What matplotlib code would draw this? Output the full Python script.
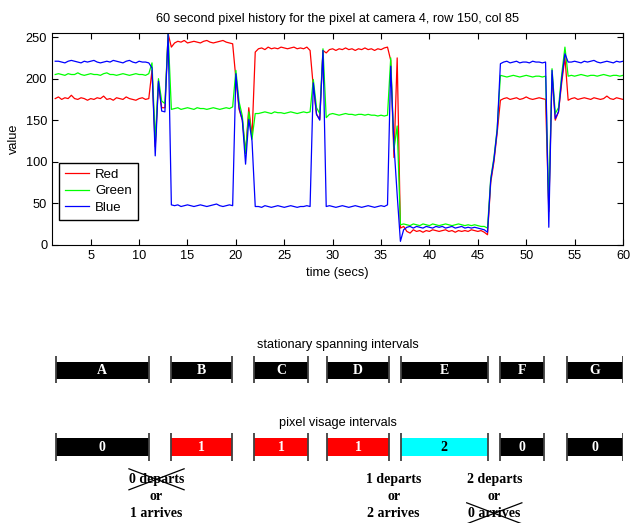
import numpy as np
import matplotlib
matplotlib.use("Agg")
import matplotlib.pyplot as plt

plt.rcParams['font.family'] = ['Liberation Sans', 'DejaVu Sans']

# pixel history, sampled 3 times a second from t = 4/3 s to 60 s
time_secs = np.arange(4, 181) / 3.0

red = [
    176, 178, 175, 177, 176, 180, 176, 175, 177, 176, 174, 176, 175, 177, 176,
    179, 175, 176, 174, 177, 176, 175, 178, 176, 175, 174, 176, 177, 175, 176,
    210, 118, 195, 165, 165, 254, 238,
    243, 245, 244, 246, 243, 244, 245, 244, 243, 245, 246, 244, 243, 244, 245, 246, 244, 243, 242,
    200, 163, 150, 110, 165, 130, 232,
    236, 237, 235, 238, 236, 237, 236, 238, 237, 236, 237, 238, 236, 237, 236, 238, 234,
    190, 157, 151, 234, 231,
    235, 236, 234, 236, 235, 237, 235, 236, 234, 236, 235, 237, 235, 236, 234, 236, 235, 237, 238,
    222, 105, 225, 20, 22,
    16, 14, 18, 16, 17, 15, 17, 16, 18, 17, 16, 17, 18, 16, 17, 15, 17, 16, 17, 16, 18, 17, 16, 17, 15, 12,
    75, 100, 135, 174,
    176, 177, 175, 176, 177, 175, 176, 178, 176, 175, 176, 177, 176, 175,
    40, 205, 150, 160, 195, 226, 174,
    176, 177, 175, 176, 177, 176, 175, 177, 176, 175, 176, 179, 176, 175, 177, 176, 175,
]
green = [
    205, 206, 205, 204, 206, 205, 205, 207, 205, 204, 205, 206, 205, 205, 204,
    206, 207, 205, 205, 204, 205, 206, 205, 204, 205, 206, 205, 205, 204, 206,
    219, 125, 200, 173, 170, 254, 163,
    164, 165, 163, 164, 165, 164, 163, 165, 164, 164, 163, 164, 165, 164, 163, 164, 165, 164, 166,
    210, 172, 155, 110, 160, 127, 158,
    158, 159, 160, 159, 158, 160, 159, 159, 158, 159, 160, 159, 158, 159, 160, 159, 160,
    199, 165, 158, 236, 153,
    157, 158, 157, 156, 157, 158, 157, 157, 156, 157, 157, 156, 157, 156, 156, 155, 156, 155, 156,
    225, 115, 143, 24, 25,
    24, 23, 25, 24, 23, 25, 24, 23, 25, 24, 23, 24, 25, 24, 23, 24, 25, 24, 23, 24, 23, 24, 23, 22, 22, 20,
    80, 105, 140, 204,
    203, 202, 203, 204, 203, 202, 203, 204, 203, 202, 203, 203, 202, 203,
    45, 212, 158, 165, 205, 238, 203,
    204, 203, 204, 205, 204, 203, 204, 204, 203, 204, 205, 204, 203, 204, 204, 203, 204,
]
blue = [
    221, 221, 220, 219, 221, 222, 221, 220, 219, 221, 220, 221, 222, 220, 219,
    220, 221, 220, 222, 221, 220, 219, 221, 222, 220, 219, 221, 220, 220, 219,
    213, 107, 197, 161, 160, 254, 48,
    47, 48, 46, 47, 48, 47, 46, 47, 48, 47, 46, 47, 48, 49, 47, 46, 47, 48, 47,
    206, 165, 150, 97, 151, 125, 46,
    46, 45, 47, 46, 45, 46, 47, 46, 45, 46, 47, 46, 45, 46, 46, 47, 46,
    195, 157, 150, 234, 46,
    47, 46, 45, 46, 47, 46, 45, 46, 47, 46, 45, 46, 47, 46, 45, 46, 47, 46, 48,
    215, 120, 60, 4, 18,
    21, 22, 20, 22, 21, 20, 22, 21, 20, 22, 21, 22, 20, 21, 22, 20, 21, 22, 20, 21, 20, 21, 20, 19, 18, 15,
    78, 103, 138, 218,
    220, 221, 219, 220, 221, 219, 220, 220, 219, 221, 220, 220, 219, 220,
    21, 210, 152, 160, 200, 230, 220,
    220, 221, 220, 219, 221, 220, 221, 222, 220, 219, 220, 221, 220, 219, 221, 220, 221,
]

# intervals (seconds)
interval_start = [1.4, 13.25, 21.85, 29.45, 37.05, 47.3, 54.25]
interval_end = [11.0, 19.55, 27.5, 35.8, 46.0, 51.85, 60.0]
span_labels = ['A', 'B', 'C', 'D', 'E', 'F', 'G']
visage_labels = ['0', '1', '1', '1', '2', '0', '0']
visage_colors = ['black', 'red', 'red', 'red', 'cyan', 'black', 'black']
visage_text_colors = ['white', 'white', 'white', 'white', 'black', 'white', 'white']

# notes under the visage row: (time, lines, index of crossed-out line)
notes = [
    (11.8, ['0 departs', 'or', '1 arrives'], 0),
    (36.3, ['1 departs', 'or', '2 arrives'], None),
    (46.7, ['2 departs', 'or', '0 arrives'], 2),
]

fs = 9.2
fig = plt.figure(figsize=(6.32, 5.23), dpi=100)
W, H = 632.0, 523.0
left, right = 52 / W, 623 / W

ax = fig.add_axes([left, (H - 244.7) / H, right - left, (244.7 - 33) / H])
ax.plot(time_secs, red, color='#ff0000', lw=0.9, label='Red')
ax.plot(time_secs, green, color='#00ff00', lw=0.9, label='Green')
ax.plot(time_secs, blue, color='#0000ff', lw=0.9, label='Blue')
ax.set_xlim(1, 60)
ax.set_ylim(0, 255)
ax.set_xticks(range(5, 61, 5))
ax.set_yticks(range(0, 251, 50))
ax.tick_params(direction='in', top=True, right=True, length=4, labelsize=fs)
ax.set_xlabel('time (secs)', fontsize=fs, labelpad=4)
ax.set_ylabel('value', fontsize=fs, labelpad=4)
ax.set_title('60 second pixel history for the pixel at camera 4, row 150, col 85',
             fontsize=fs, pad=8)
leg = ax.legend(loc='lower left', bbox_to_anchor=(0.012, 0.118), fontsize=9.5,
                fancybox=False, edgecolor='black', framealpha=1,
                handlelength=1.8, handletextpad=0.5, borderpad=0.45,
                labelspacing=0.32, borderaxespad=0)
leg.get_frame().set_linewidth(1.0)

# bottom panel, y in image pixel rows
ax2 = fig.add_axes([left, 0, right - left, (H - 335) / H])
ax2.set_xlim(1, 60)
ax2.set_ylim(H, 335)
ax2.axis('off')

mid = 0.5 * (1 + 60)
ax2.text(mid, 345, 'stationary spanning intervals', ha='center', va='center', fontsize=fs)
ax2.text(mid, 422.7, 'pixel visage intervals', ha='center', va='center', fontsize=fs)

serif_bold = dict(family=['Liberation Serif', 'DejaVu Serif'], weight='bold')

span_y, vis_y, bar_h = 370.3, 447.0, 17.4
for i in range(len(interval_start)):
    s, e = interval_start[i], interval_end[i]
    c = 0.5 * (s + e)
    ax2.barh(span_y, e - s, left=s, height=bar_h, color='black')
    ax2.vlines([s, e], 355.7, 383.3, color='0.25', lw=1.3)
    ax2.text(c, span_y + 0.5, span_labels[i], color='white', ha='center', va='center',
             fontsize=10, **serif_bold)
    ax2.barh(vis_y, e - s, left=s, height=bar_h, color=visage_colors[i])
    ax2.vlines([s, e], 433, 460.7, color='0.25', lw=1.3)
    ax2.text(c, vis_y + 0.5, visage_labels[i], color=visage_text_colors[i],
             ha='center', va='center', fontsize=10, **serif_bold)

note_rows = [479.3, 496.7, 513.3]
for t, lines, crossed in notes:
    for row, line in zip(note_rows, lines):
        ax2.text(t, row, line, ha='center', va='center', fontsize=10, **serif_bold)
    if crossed is not None:
        r = note_rows[crossed]
        ax2.plot([t - 2.85, t + 2.85], [r - 10.5, r + 10.5], color='black', lw=0.9)
        ax2.plot([t - 2.85, t + 2.85], [r + 10.5, r - 10.5], color='black', lw=0.9)

fig.savefig('out.png', dpi=100)
